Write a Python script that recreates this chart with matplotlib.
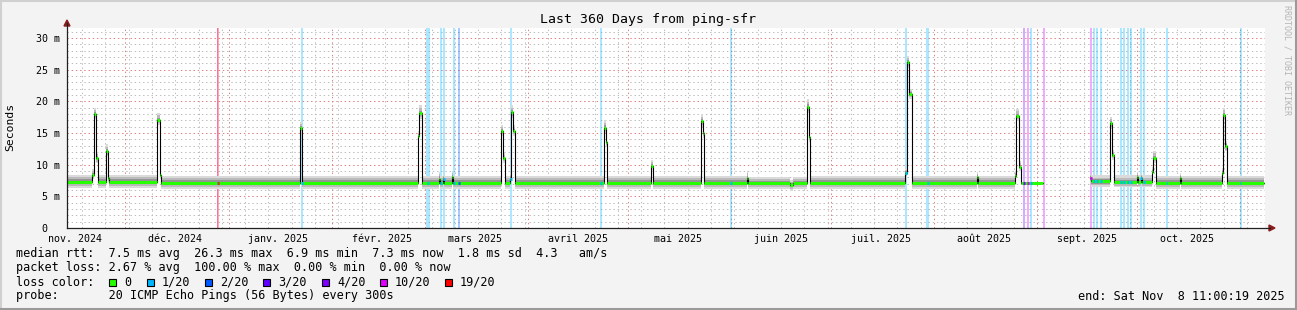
import matplotlib
matplotlib.use('Agg')
import matplotlib.pyplot as plt
import matplotlib.dates as mdates
from matplotlib.lines import Line2D
from matplotlib.patches import Polygon, Rectangle
from datetime import datetime, timedelta
import numpy as np

# 360 day window, ending at the time printed in the footer
end = datetime(2025, 11, 8, 11, 0, 19)
start = end - timedelta(days=360)

# median rtt in ms, as steps (days since start of the window)
med_days = [0.0, 7.5, 8.1, 8.8, 9.3, 11.6, 12.3, 12.6, 26.9, 27.9,
            28.3, 69.9, 70.6, 105.4, 105.9, 106.7, 111.9, 112.2, 113.1, 113.4,
            115.8, 116.1, 130.4, 131.0, 131.5, 133.1, 133.5, 134.1, 134.6, 161.4,
            162.0, 162.4, 175.6, 176.1, 190.5, 191.0, 191.5, 204.3, 204.7, 217.3,
            218.3, 222.3, 222.9, 223.4, 251.8, 252.3, 253.1, 253.8, 273.4, 273.8,
            284.9, 285.3, 286.2, 286.7, 293.3, 307.4, 307.8, 313.5, 314.1, 314.6,
            321.4, 321.7, 322.6, 322.9, 326.0, 326.4, 327.2, 334.4, 334.8, 347.0,
            347.4, 348.1, 348.6, 359.7]
med_ms = [7.3, 8.4, 18.0, 11.0, 7.3, 12.1, 7.9, 7.3, 17.0, 8.4,
          7.15, 15.8, 7.15, 14.5, 18.1, 7.15, 7.8, 7.15, 7.7, 7.15,
          8.0, 7.15, 15.3, 11.0, 7.15, 7.8, 18.3, 15.4, 7.15, 15.8,
          13.6, 7.15, 9.8, 7.15, 16.9, 15.0, 7.15, 7.9, 7.05, 6.8,
          7.05, 19.1, 14.4, 7.15, 8.7, 26.2, 21.2, 7.15, 8.0, 7.15,
          8.2, 17.7, 9.7, 7.15, np.nan, 7.9, 7.35, 16.6, 11.5, 7.3,
          8.1, 7.3, 7.9, 7.3, 8.9, 11.0, 7.15, 7.9, 7.15, 8.7,
          17.8, 12.9, 7.15, 7.15]
# smoke: lowest and highest of the 20 pings
smoke_lo = [6.3, 7.7, 17.2, 10.2, 6.3, 11.3, 7.2, 6.3, 16.3, 7.8,
            6.2, 15.0, 6.2, 13.8, 17.3, 6.2, 7.0, 6.2, 7.0, 6.2,
            7.2, 6.2, 14.5, 10.3, 6.2, 7.0, 17.4, 14.6, 6.2, 15.0,
            12.8, 6.2, 9.2, 6.2, 16.0, 14.2, 6.2, 7.2, 6.1, 5.9,
            6.1, 18.2, 13.6, 6.2, 8.0, 25.3, 20.4, 6.2, 7.3, 6.2,
            7.5, 16.9, 9.0, 6.2, np.nan, 7.2, 6.4, 15.6, 10.8, 6.4,
            7.4, 6.4, 7.2, 6.4, 8.2, 10.3, 6.2, 7.2, 6.2, 8.0,
            17.0, 12.1, 6.2, 6.2]
smoke_hi = [8.4, 9.3, 19.0, 12.0, 8.4, 13.2, 8.8, 8.4, 18.2, 9.2,
            8.2, 16.8, 8.2, 15.4, 19.4, 8.2, 8.9, 8.2, 8.6, 8.2,
            9.0, 8.2, 16.3, 11.8, 8.2, 8.8, 19.4, 16.2, 8.2, 17.0,
            14.4, 8.2, 10.8, 8.2, 18.0, 15.8, 8.2, 9.0, 8.1, 7.6,
            8.1, 20.4, 15.4, 8.2, 9.5, 27.2, 22.0, 8.2, 8.9, 8.2,
            9.0, 18.8, 10.6, 8.2, np.nan, 8.6, 8.3, 17.6, 12.4, 8.3,
            8.9, 8.3, 8.7, 8.3, 9.6, 12.2, 8.2, 8.7, 8.2, 9.5,
            19.0, 13.8, 8.2, 8.2]

# packet loss events (days since start, index into loss_names)
loss_days = [45.2, 45.5, 70.6, 108.3, 108.7, 112.4, 113.3, 116.3, 117.8, 133.4,
             160.5, 199.5, 252.1, 258.5, 258.9, 287.6, 288.8, 289.7, 293.6, 307.7,
             308.6, 309.5, 310.7, 316.7, 317.6, 318.8, 319.7, 322.7, 323.6, 330.5,
             352.7]
loss_level = [5, 6, 1, 1, 1, 1, 1, 1, 2, 1,
              1, 1, 1, 1, 1, 4, 5, 1, 5, 5,
              1, 1, 1, 1, 1, 1, 1, 1, 1, 1,
              1]
loss_names = ['0', '1/20', '2/20', '3/20', '4/20', '10/20', '19/20']
loss_colors = ['#26ff00', '#00b8ff', '#0059ff', '#5e00ff', '#7e00ff', '#dd00ff', '#ff0000']

month_labels = ['nov. 2024', 'déc. 2024', 'janv. 2025', 'févr. 2025', 'mars 2025', 'avril 2025',
                'mai 2025', 'juin 2025', 'juil. 2025', 'août 2025', 'sept. 2025', 'oct. 2025']
y_ticks = [0, 5, 10, 15, 20, 25, 30]
y_labels = ['0  ', '5 m', '10 m', '15 m', '20 m', '25 m', '30 m']

title = 'Last 360 Days from ping-sfr'
rtt_line = 'median rtt:  7.5 ms avg  26.3 ms max  6.9 ms min  7.3 ms now  1.8 ms sd  4.3   am/s'
loss_line = 'packet loss: 2.67 % avg  100.00 % max  0.00 % min  0.00 % now'
probe_line = 'probe:       20 ICMP Echo Pings (56 Bytes) every 300s'
end_line = 'end: Sat Nov  8 11:00:19 2025'

W, H = 1297, 310
MONO = 'DejaVu Sans Mono'
FS = 8.5      # legend
AXFS = 7.2    # axis labels

t0 = mdates.date2num(start)
x = t0 + np.array(med_days)
med = np.array(med_ms)
lo = np.array(smoke_lo)
hi = np.array(smoke_hi)

fig = plt.figure(figsize=(W / 100, H / 100), dpi=100, facecolor='#f3f3f3')
ax = fig.add_axes([67 / W, (H - 228) / H, (1265 - 67) / W, (228 - 28) / H])
ax.set_facecolor('white')
ax.set_xlim(t0, mdates.date2num(end))
ax.set_ylim(0, 31.6)

# grid: 1 m minor, 5 m major; weeks minor, months major (rrdtool style dots)
dot = (0, (1.4, 2.8))
for v in range(1, 32):
    c = '#e08080' if v % 5 == 0 else '#bdbdbd'
    ax.axhline(v, color=c, lw=0.72, ls=dot, zorder=0)
d = datetime(2024, 11, 18)
while d < end:
    ax.axvline(mdates.date2num(d), color='#bdbdbd', lw=0.72, ls=dot, zorder=0)
    d += timedelta(days=7)
for y, m in [(2024, 12)] + [(2025, k) for k in range(1, 12)]:
    ax.axvline(mdates.date2num(datetime(y, m, 1)), color='#e08080', lw=0.72, ls=dot, zorder=0)

# loss bars over full height
lx = t0 + np.array(loss_days)
ax.bar(lx, 31.6, width=0.55, bottom=0, color=[loss_colors[k] for k in loss_level],
       alpha=0.33, lw=0, zorder=1)

# smoke, lighter further from the median
ax.fill_between(x, lo, hi, step='post', color='#dadada', lw=0, zorder=2)
ax.fill_between(x, med - (med - lo) * 0.65, med + (hi - med) * 0.65, step='post',
                color='#bababa', lw=0, zorder=2)
ax.fill_between(x, med - (med - lo) * 0.35, med + (hi - med) * 0.35, step='post',
                color='#959595', lw=0, zorder=2)

# median: black step line plus loss coloured segments
ax.step(x, med, where='post', color='black', lw=0.8, zorder=3)
ax.hlines(med[:-1], x[:-1], x[1:], color=loss_colors[0], lw=2.2, capstyle='butt', zorder=4)
for dd, k in zip(lx, loss_level):
    i = np.searchsorted(x, dd, side='right') - 1
    if 0 <= i < len(med) - 1 and not np.isnan(med[i]):
        ax.hlines(med[i], dd - 0.2, dd + 0.2, color=loss_colors[k], lw=2.2, capstyle='butt', zorder=5)

ax.set_yticks(y_ticks, y_labels)
ax.set_xticks(t0 + np.array([(datetime(2024 + (10 + i) // 12, (10 + i) % 12 + 1, 16) - start).total_seconds() / 86400
                             for i in range(12)]), month_labels)
ax.tick_params(length=0, labelsize=AXFS, colors='black')
ax.tick_params(axis='y', pad=5)
ax.tick_params(axis='x', pad=4)
for lab in ax.get_xticklabels() + ax.get_yticklabels():
    lab.set_family(MONO)
for s in ax.spines.values():
    s.set_visible(False)


def fx(px):
    return px / W


def fy(py):
    return 1 - py / H


# axis lines with arrows
fig.add_artist(Line2D([fx(67), fx(1270)], [fy(228), fy(228)], color='#202020', lw=0.9))
fig.add_artist(Line2D([fx(67), fx(67)], [fy(228), fy(23)], color='#202020', lw=0.9))
fig.add_artist(Polygon([[fx(1269), fy(225)], [fx(1269), fy(231)], [fx(1275), fy(228)]],
                       closed=True, color='#8b1c1c', transform=fig.transFigure))
fig.add_artist(Polygon([[fx(64), fy(26)], [fx(70), fy(26)], [fx(67), fy(20)]],
                       closed=True, color='#8b1c1c', transform=fig.transFigure))

# texts
fig.text(fx(648), fy(19), title, ha='center', va='center', family=MONO, size=9.5)
fig.text(fx(10), fy(127), 'Seconds', rotation=90, ha='center', va='center', family=MONO, size=8.2)
fig.text(fx(1287), fy(5), 'RRDTOOL / TOBI OETIKER', rotation=270, ha='center', va='top',
         family=MONO, size=6, color='#b5b5b5')
fig.text(fx(16), fy(254), rtt_line, va='center', family=MONO, size=FS)
fig.text(fx(16), fy(268), loss_line, va='center', family=MONO, size=FS)
fig.text(fx(16), fy(282), 'loss color:', va='center', family=MONO, size=FS)
box_x = [109, 147, 205, 263, 322, 380, 445]
for bx, name, col in zip(box_x, loss_names, loss_colors):
    fig.add_artist(Rectangle((fx(bx), fy(285.5)), 7 / W, 7 / H, facecolor=col,
                             edgecolor='black', lw=0.8, transform=fig.transFigure))
    fig.text(fx(bx + 15), fy(282), name, va='center', family=MONO, size=FS)
fig.text(fx(16), fy(296), probe_line, va='center', family=MONO, size=FS)
fig.text(fx(1285), fy(296), end_line, ha='right', va='center', family=MONO, size=FS)

# frame around the image
fig.add_artist(Line2D([0, 1], [fy(0.5), fy(0.5)], color='#d0d0d0', lw=1.5))
fig.add_artist(Line2D([fx(0.5), fx(0.5)], [0, 1], color='#d0d0d0', lw=1.5))
fig.add_artist(Line2D([0, 1], [fy(309), fy(309)], color='#9a9a9a', lw=1.5))
fig.add_artist(Line2D([fx(1296), fx(1296)], [0, 1], color='#9a9a9a', lw=1.5))

fig.savefig('out.png', dpi=100, facecolor=fig.get_facecolor())
